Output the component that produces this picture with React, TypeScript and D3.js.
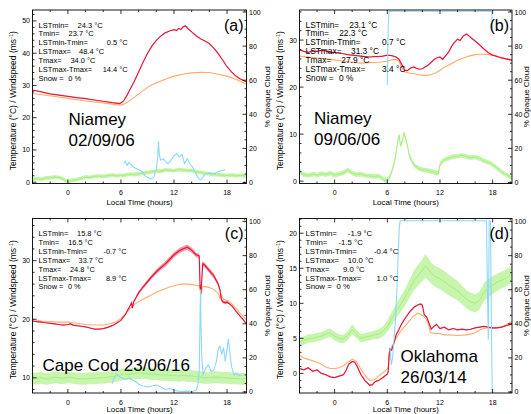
import React from "react";
import * as d3 from "d3";

type Pt = number[]; // [hour, value, optional noise half-width]

// ---------- shared axis values ----------
const X_DOMAIN: [number, number] = [-4, 20.2];
const X_MAJOR = [0, 6, 12, 18];
const R_MAJOR = [0, 20, 40, 60, 80, 100];
const X_TITLE = "Local Time (hours)";
const Y_TITLE_LEFT = "Temperature (°C) / Windspeed (ms";
const Y_TITLE_RIGHT = "% Opaque Cloud";
const STAT_LABELS = ["LSTmin=", "Tmin=", "LSTmin-Tmin=", "LSTmax=", "Tmax=", "LSTmax-Tmax=", "Snow ="];

// ---------- (a) Niamey 02/09/06 ----------
const aLst: Pt[] = [[-4,28.6],[-3,28.0],[-2,27.4],[-1,27.0],[0,26.6],[1,26.2],[2,25.9],[3,25.5],[4,25.1],[5,24.7],[5.9,24.4],[6.3,25.2],[6.7,27.0],[7,28.6],[7.5,31.2],[8,34.2],[8.5,37.2],[9,39.9],[9.5,42.2],[10,44.0],[10.5,45.3],[11,46.3],[11.5,46.9],[12,47.3],[12.3,47.0],[12.5,47.7],[12.8,47.4],[13,48.1],[13.3,48.5],[13.6,47.6],[14,46.6],[14.5,45.4],[15,44.5],[15.5,43.8],[16,43.0],[16.5,41.6],[17,39.9],[17.5,37.9],[18,35.8],[18.5,34.2],[19,32.9],[19.5,32.0],[20,31.4],[20.2,31.1]];
const aTair: Pt[] = [[-4,27.5],[-2,26.8],[0,26.0],[2,25.2],[4,24.6],[5,24.2],[6,23.9],[6.5,24.4],[7,25.3],[7.5,26.3],[8,27.3],[8.5,28.4],[9,29.4],[9.5,30.2],[10,30.8],[11,31.9],[12,32.9],[13,33.5],[14,33.9],[15,34.1],[16,34.0],[17,33.5],[18,32.9],[19,31.9],[20,30.6],[20.2,30.3]];
const aWind: Pt[] = [[-4,0.9],[-3.5,1.1],[-3,0.9],[-2.5,1.3],[-2,1.4],[-1.5,1.6],[-1,1.5],[-0.5,0.9],[0,0.2],[0.5,0.6],[1,0.8],[1.5,1.2],[2,1.6],[2.5,1.5],[3,1.8],[3.5,1.9],[4,1.8],[4.5,2.0],[5,2.2],[5.5,2.0],[6,2.1],[6.5,2.2],[7,2.5],[7.5,2.4],[8,2.6],[8.5,2.8],[9,3.0],[9.5,3.2],[10,3.5],[10.5,3.4],[11,3.8],[11.5,3.7],[12,3.6],[12.5,3.9],[13,3.8],[13.5,3.6],[14,3.6],[14.5,3.3],[15,3.0],[15.5,2.8],[16,2.6],[16.5,2.4],[17,2.3],[17.5,2.2],[18,2.1],[18.5,2.2],[19,2.0],[19.5,2.1],[20,2.0],[20.2,1.9]];
const aWindNoise = 0.6;
const aCloud: Pt[] = [[6.3,11],[6.5,12.5],[6.7,10],[6.9,12],[7.2,10],[7.6,8.5],[8,7.5],[8.4,6.5],[8.7,4],[9,3],[9.4,2],[9.7,3],[10,8],[10.15,14],[10.25,24],[10.35,16],[10.5,13],[10.8,14],[11,12.5],[11.3,11],[11.6,12.5],[12,15.5],[12.3,17],[12.6,15],[12.9,16.5],[13.2,11],[13.5,14],[13.8,11],[14.1,9],[14.4,6],[14.7,3],[15,1.5],[15.3,3.5],[15.6,5],[16,5.5],[16.5,5],[17,6.5],[17.4,7],[17.8,7.5]];
const aStats = ["24.3 °C", "23.7 °C", "0.5 °C", "48.4 °C", "34.0 °C", "14.4 °C", "0 %"];
const aPlace = ["Niamey", "02/09/06"];

// ---------- (b) Niamey 09/06/06 ----------
const bLst: Pt[] = [[-4,27.9],[-3.5,27.6],[-3,27.4],[-2.5,27.7],[-2,27.6],[-1.5,27.8],[-1,27.7],[-0.5,27.4],[0,27.4],[0.5,27.2],[1,27.1],[1.5,26.9],[2,26.8],[2.5,26.7],[3,26.6],[3.5,26.5],[4,26.4],[4.5,26.5],[5,26.5],[5.5,26.6],[6,26.8],[6.5,26.7],[7,26.4],[7.3,26.0],[7.6,25.0],[8,23.6],[8.3,23.5],[8.6,24.0],[9,24.3],[9.3,24.0],[9.6,23.8],[10,23.9],[10.3,24.3],[10.6,24.6],[11,25.3],[11.3,25.8],[11.6,26.2],[12,26.4],[12.3,25.9],[12.6,26.6],[13,27.5],[13.3,28.6],[13.6,29.4],[14,30.2],[14.3,29.9],[14.6,30.8],[15,31.3],[15.3,30.9],[15.6,30.4],[16,29.8],[16.5,29.0],[17,28.1],[17.5,27.3],[18,26.8],[18.5,26.5],[19,26.2],[19.5,26.0],[20,25.8],[20.2,25.7]];
const bTair: Pt[] = [[-4,26.6],[-3,26.4],[-2,26.2],[-1,26.0],[0,25.8],[1,25.5],[2,25.3],[3,25.1],[4,25.2],[5,25.3],[5.5,25.4],[6,25.5],[6.5,25.8],[7,25.9],[7.3,25.6],[7.6,24.3],[8,23.2],[8.5,23.0],[9,22.9],[9.5,22.7],[10,22.5],[10.5,22.5],[11,22.7],[11.5,23.0],[12,23.6],[12.5,24.2],[13,24.7],[13.5,25.2],[14,25.7],[14.5,26.1],[15,26.4],[15.5,26.7],[16,26.9],[16.5,27.0],[17,27.0],[17.5,26.9],[18,26.8],[18.5,26.6],[19,26.3],[19.5,26.1],[20,25.9],[20.2,25.8]];
const bWind: Pt[] = [[-4,2.4],[-3.75,1.6],[-3.5,1.4],[-3,1.2],[-2.5,1.5],[-2,1.3],[-1.5,1.6],[-1,1.4],[-0.5,1.7],[0,1.3],[0.5,1.5],[1,1.8],[1.5,2.4],[2,1.7],[2.5,1.4],[3,1.5],[3.5,1.2],[4,1.1],[4.5,1.0],[5,1.1],[5.5,0.5],[5.9,0.1],[6.2,0.6],[6.5,2.0],[6.8,4.0],[7.0,6.0],[7.2,8.5],[7.35,9.8],[7.5,7.5],[7.7,8.5],[7.9,10.3],[8.1,9.0],[8.3,7.5],[8.5,5.5],[8.8,4.2],[9.1,3.3],[9.5,2.8],[10,2.4],[10.5,2.3],[11,2.1],[11.5,1.8],[11.8,1.6],[12,3.5],[12.3,4.3],[12.6,4.6],[13,4.9],[13.5,5.2],[14,5.3],[14.5,5.5],[15,5.2],[15.5,5.0],[16,5.1],[16.5,4.8],[17,4.3],[17.5,4.0],[18,3.5],[18.5,2.8],[19,2.0],[19.5,1.4],[20,0.9],[20.2,0.8]];
const bWindNoise = 0.5;
const bCloud: Pt[] = [[6.0,57],[6.05,75],[6.1,92],[6.2,100.5],[8,100.5],[10,100.5],[12,100.5],[14,100.5],[16,100.5],[17.9,100.5],[18.0,88]];
const bStats = ["23.1 °C", "22.3 °C", "0.7 °C", "31.3 °C", "27.9 °C", "3.4 °C", "0 %"];
const bPlace = ["Niamey", "09/06/06"];

// ---------- (c) Cape Cod 23/06/16 ----------
const cLst: Pt[] = [[-4,19.7],[-3.5,19.6],[-3,19.5],[-2.5,19.4],[-2,19.3],[-1.5,19.2],[-1,19.1],[-0.5,19.0],[0,19.1],[0.3,19.2],[0.6,19.0],[1,18.9],[1.5,18.8],[2,18.7],[2.5,18.5],[3,18.3],[3.5,18.3],[4,18.4],[4.5,18.6],[5,18.9],[5.5,19.3],[6,19.8],[6.5,20.8],[7,22.2],[7.2,22.8],[7.3,21.9],[7.45,23.0],[8,24.5,0.3],[8.5,25.5,0.3],[9,26.4,0.35],[9.5,27.3,0.35],[10,28.1,0.4],[10.5,28.8,0.4],[11,29.4,0.45],[11.5,30.2,0.45],[12,31.0,0.45],[12.5,31.6,0.45],[13,32.0,0.45],[13.5,32.3,0.45],[14,31.8,0.45],[14.5,31.0,0.4],[14.85,30.8,0.4],[14.95,25.6,0.2],[15.05,24.5,0.2],[15.15,27.0,0.2],[15.25,29.5,0.4],[15.5,29.2,0.4],[16,28.3,0.4],[16.5,27.4,0.4],[17,26.0,0.3],[17.2,25.0,0.3],[17.35,23.5,0.25],[17.5,23.0,0.25],[17.8,22.8,0.25],[18,22.9,0.25],[18.3,22.6],[18.6,22.2],[19,21.4],[19.5,20.5],[20,19.6],[20.2,19.2]];
const cTair: Pt[] = [[-4,20.0],[-3,19.7],[-2,19.6],[-1,19.5],[0,19.5],[0.5,19.4],[1,19.3],[2,19.1],[3,19.0],[4,19.0],[5,19.3],[5.5,19.6],[6,20.1],[6.5,20.9],[7,21.8],[7.5,22.5],[8,23.0],[8.5,23.4],[9,23.8],[9.5,24.2],[10,24.6],[10.5,24.9],[11,25.2],[11.5,25.5],[12,25.7],[12.5,25.9],[13,26.0],[13.5,26.0],[14,25.9],[14.5,25.8],[14.9,25.7],[15.0,24.5],[15.1,24.3],[15.2,25.5],[15.5,25.6],[16,25.4],[16.5,25.1],[17,24.4],[17.2,23.6],[17.35,24.2],[17.6,23.4],[18,23.2],[18.5,22.7],[19,21.9],[19.5,21.0],[20,20.2],[20.2,19.9]];
const cWind: Pt[] = [[-4,9.8],[-3.5,9.9],[-3,10.0],[-2.5,9.8],[-2,9.9],[-1.5,10.1],[-1,10.0],[-0.5,9.9],[0,10.1],[0.5,10.0],[1,9.9],[1.5,9.8],[2,9.8],[2.5,9.9],[3,9.9],[3.5,10.0],[4,10.0],[4.5,10.1],[5,10.2],[5.5,10.3],[6,10.5],[6.5,10.6],[7,10.6],[7.5,10.7],[8,10.8],[8.5,10.8],[9,10.7],[9.5,10.6],[10,10.6],[10.5,10.5],[11,10.5],[11.5,10.4],[12,10.4],[12.5,10.3],[13,10.4],[13.5,10.3],[14,10.3],[14.5,10.2],[15,10.1],[15.5,10.0],[16,10.0],[16.5,10.1],[17,10.1],[17.5,10.0],[18,10.0],[18.5,9.9],[19,9.9],[19.5,9.8],[20,9.8],[20.2,9.8]];
const cWindNoise = 1.0;
const cCloud: Pt[] = [[5.0,5],[5.2,8],[5.5,10.5],[5.8,9],[6.2,8],[6.6,7.5],[7.0,8.5],[7.3,7],[7.7,6],[8.0,4.5],[8.5,3.5],[9.0,3],[9.5,3.5],[10.0,4],[10.5,3],[11.0,1.5],[11.5,2],[12.0,1],[12.5,0.5],[13.0,0.3],[13.5,0.5],[14.0,0.3],[14.5,1],[14.7,4],[14.85,12],[14.95,45],[15.0,60],[15.05,40],[15.15,20],[15.3,10],[15.6,14],[15.9,16],[16.2,12],[16.5,13],[16.8,18],[17.0,25],[17.2,27],[17.4,22],[17.6,26],[17.8,18],[18.0,25],[18.15,31],[18.3,24],[18.5,15],[18.8,10],[19.1,11],[19.4,9.5],[19.7,10]];
const cStats = ["15.8 °C", "16.5 °C", "-0.7 °C", "33.7 °C", "24.8 °C", "8.9 °C", "0 %"];
const cPlace = ["Cape Cod 23/06/16"];

// ---------- (d) Oklahoma 26/03/14 ----------
const dLst: Pt[] = [[-4,0.7],[-3.5,0.5],[-3,0.8],[-2.5,0.3],[-2,0.5],[-1.5,0.0],[-1,-0.2],[-0.5,-0.5],[0,-0.6],[0.5,-0.4],[1,-0.2],[1.3,0.4],[1.6,1.3],[2,1.7],[2.3,1.6],[2.6,0.9],[3,-0.2],[3.5,-1.1],[4,-1.7],[4.3,-1.6],[4.6,-1.2],[5,-1.0],[5.5,-0.6],[6,-0.1],[6.1,0.2],[6.2,2.5],[6.3,3.5],[6.5,3.3],[6.8,4.5],[7,5.5],[7.3,6.2],[7.6,7.0],[8,7.8],[8.5,8.7],[9,9.4],[9.5,9.8],[9.8,9.9],[10,9.7],[10.2,8.4],[10.5,8.0],[10.8,7.0],[11,6.3],[11.3,6.7],[11.6,7.0],[12,6.4],[12.5,6.6],[13,6.2],[13.5,6.4],[14,6.2],[14.5,6.3],[15,6.2],[15.5,6.3],[16,6.5],[16.5,6.6],[17,6.7],[17.5,6.6],[18,6.5],[18.5,6.5],[19,6.6],[19.5,6.8],[20,7.0],[20.2,7.1]];
const dTair: Pt[] = [[-4,2.6],[-3.5,2.2],[-3,2.0],[-2.5,1.8],[-2,1.6],[-1.5,1.3],[-1,0.9],[-0.5,0.7],[0,0.7],[0.5,0.8],[1,1.1],[1.5,1.6],[2,2.0],[2.4,1.8],[2.8,1.0],[3.2,0.2],[3.6,-0.5],[4,-1.0],[4.5,-0.9],[5,-0.4],[5.5,0.1],[6,0.6],[6.1,0.8],[6.25,3.0],[6.5,3.8],[7,5.0],[7.5,6.0],[8,6.7],[8.5,7.5],[9,8.2],[9.5,8.6],[10,8.3],[10.4,7.8],[10.7,7.0],[10.9,5.8],[11.5,5.7],[12,5.7],[12.5,5.5],[13,5.5],[14,5.4],[15,5.5],[15.5,5.6],[16,5.8],[16.5,6.2],[17,6.4],[17.5,6.5],[18,6.4],[18.5,6.5],[19,6.6],[19.5,6.9],[20,7.3],[20.2,7.4]];
const dWind: Pt[] = [[-4,4.5,0.6],[-3.5,4.7,0.6],[-3,5.0,0.6],[-2.5,5.0,0.6],[-2,5.2,0.6],[-1.5,5.3,0.6],[-1,5.6,0.6],[-0.5,5.8,0.6],[0,5.3,0.6],[0.5,5.0,0.6],[1,4.9,0.6],[1.5,5.4,0.6],[2,6.3,0.7],[2.5,5.6,0.6],[3,5.0,0.6],[3.5,5.2,0.6],[4,5.3,0.6],[4.5,5.5,0.6],[5,5.6,0.7],[5.5,6.0,0.7],[6,6.7,0.8],[6.5,7.8,0.9],[7,8.9,1.0],[7.5,9.8,1.1],[8,10.8,1.2],[8.5,12.0,1.3],[9,13.2,1.4],[9.5,14.0,1.5],[10,14.7,1.6],[10.3,15.3,1.7],[10.6,15.0,1.6],[11,14.3,1.5],[11.5,13.8,1.5],[12,13.5,1.5],[12.5,13.1,1.5],[13,12.6,1.5],[13.5,12.2,1.4],[14,11.8,1.4],[14.5,11.2,1.3],[15,10.6,1.3],[15.5,10.2,1.3],[16,10.0,1.3],[16.5,10.4,1.3],[17,11.6,1.3],[17.5,12.2,1.3],[18,12.6,1.3],[18.5,13.0,1.2],[19,13.3,1.2],[19.5,13.6,1.2],[20,14.0,1.2],[20.2,14.2,1.2]];
const dWindNoise = 1.0;
const dCloud: Pt[] = [[6.3,26],[6.45,16],[6.6,20],[6.75,30],[6.9,40],[7.05,55],[7.2,75],[7.35,95],[7.45,100.5],[10,100.5],[14,100.5],[17.3,100.5],[17.4,60],[17.5,31],[17.55,60],[17.6,100.5],[17.75,100.5],[17.85,40],[17.95,-1]];
const dStats = ["-1.9 °C", "-1.5 °C", "-0.4 °C", "10.0 °C", "9.0 °C", "1.0 °C", "0 %"];
const dPlace = ["Oklahoma", "26/03/14"];

// ---------- layout / style ----------
const W = 531, H = 414;
const COLS = [{ l: 32.5, r: 246.5 }, { l: 299.5, r: 512 }];
const ROWS = [{ t: 10, b: 183.5, xTitle: 21 }, { t: 218.5, b: 393, xTitle: 18.5 }];
const C = { lst: "#e4163a", tair: "#ffab68", wind: "#a2ee78", cloud: "#8dd8fa" };
const FONT = "'Liberation Sans', Arial, Helvetica, sans-serif";
// right edge of each stats value, in ems of the stats font, measured from the block start
const STAT_VALUE_END_EM = [8.55, 7.35, 11.9, 8.75, 7.6, 11.9, 5.7];

interface Spec {
  letter: string; col: number; row: number;
  yDomain: [number, number]; yStep: number; yMinorStep: number; rDomain: [number, number];
  lst: Pt[]; tair: Pt[]; wind: Pt[]; windNoise: number; cloud: Pt[];
  stats: string[]; statFs: number; place: string[]; placeX: number; placeY: number; placeGap: number;
}

const SPECS: Spec[] = [
  { letter: "(a)", col: 0, row: 0, yDomain: [-0.4, 53.4], yStep: 10, yMinorStep: 2, rDomain: [-0.6, 101.2],
    lst: aLst, tair: aTair, wind: aWind, windNoise: aWindNoise, cloud: aCloud, stats: aStats, statFs: 7.5, place: aPlace, placeX: 36, placeY: 115, placeGap: 21 },
  { letter: "(b)", col: 1, row: 0, yDomain: [-0.5, 36.4], yStep: 10, yMinorStep: 2, rDomain: [-0.6, 101.2],
    lst: bLst, tair: bTair, wind: bWind, windNoise: bWindNoise, cloud: bCloud, stats: bStats, statFs: 8.4, place: bPlace, placeX: 14.5, placeY: 114, placeGap: 21 },
  { letter: "(c)", col: 0, row: 1, yDomain: [7.4, 37.2], yStep: 10, yMinorStep: 2, rDomain: [-0.6, 101.8],
    lst: cLst, tair: cTair, wind: cWind, windNoise: cWindNoise, cloud: cCloud, stats: cStats, statFs: 7.4, place: cPlace, placeX: 10, placeY: 152.5, placeGap: 21 },
  { letter: "(d)", col: 1, row: 1, yDomain: [-2.8, 22.1], yStep: 5, yMinorStep: 1, rDomain: [-0.6, 101.8],
    lst: dLst, tair: dTair, wind: dWind, windNoise: dWindNoise, cloud: dCloud, stats: dStats, statFs: 7.8, place: dPlace, placeX: 101, placeY: 143, placeGap: 21 },
];

function Panel({ s }: { s: Spec }) {
  const { l, r } = COLS[s.col];
  const { t, b, xTitle } = ROWS[s.row];
  const x = d3.scaleLinear().domain(X_DOMAIN).range([l, r]);
  const y = d3.scaleLinear().domain(s.yDomain).range([b, t]);
  const yr = d3.scaleLinear().domain(s.rDomain).range([b, t]);
  const clipId = "clip" + s.letter.replace(/[()]/g, "");

  const lineL = d3.line<Pt>().x(d => x(d[0])).y(d => y(d[1]));
  const lineR = d3.line<Pt>().x(d => x(d[0])).y(d => yr(d[1]));
  const band = (noise: number) =>
    d3.area<Pt>().x(d => x(d[0]))
      .y0(d => y(d[1] - (d[2] ?? noise)))
      .y1(d => y(d[1] + (d[2] ?? noise)));

  const yMajor = d3.range(Math.ceil(s.yDomain[0] / s.yStep) * s.yStep, s.yDomain[1] + 1e-9, s.yStep);
  const yMinor = d3.range(Math.ceil(s.yDomain[0] / s.yMinorStep) * s.yMinorStep, s.yDomain[1] + 1e-9, s.yMinorStep)
    .filter(v => Math.abs(v / s.yStep - Math.round(v / s.yStep)) > 1e-6);
  const rMinor = d3.range(5, 100, 5).filter(v => v % 20 !== 0);
  const xMinor = d3.range(-4, X_DOMAIN[1] + 1e-9, 2).filter(v => v % 6 !== 0);

  const TL = 4, TM = 2;
  const cx = (l + r) / 2, cy = (t + b) / 2;
  const tickFs = 7;
  const statX = l + 6;

  return (
    <g>
      <defs>
        <clipPath id={clipId}><rect x={l} y={t} width={r - l} height={b - t} /></clipPath>
      </defs>
      <g clipPath={`url(#${clipId})`}>
        <path d={lineL(s.tair) || ""} fill="none" stroke={C.tair} strokeWidth={1.1} />
        <path d={band(0.06)(s.lst) || ""} fill={C.lst} opacity={0.45} />
        <path d={lineL(s.lst) || ""} fill="none" stroke={C.lst} strokeWidth={1.2} />
        <path d={band(s.windNoise)(s.wind) || ""} fill={C.wind} opacity={0.6} />
        <path d={lineL(s.wind) || ""} fill="none" stroke={C.wind} strokeWidth={0.9} />
        <path d={lineR(s.cloud) || ""} fill="none" stroke={C.cloud} strokeWidth={1.1} strokeLinejoin="round" />
      </g>
      <rect x={l} y={t} width={r - l} height={b - t} fill="none" stroke="#000" strokeWidth={0.9} />
      {X_MAJOR.map(v => (
        <g key={"xm" + v}>
          <line x1={x(v)} x2={x(v)} y1={b} y2={b - TL} stroke="#000" strokeWidth={0.8} />
          <line x1={x(v)} x2={x(v)} y1={t} y2={t + TL} stroke="#000" strokeWidth={0.8} />
          <text x={x(v)} y={b + 11.5} fontSize={tickFs} textAnchor="middle">{v}</text>
        </g>
      ))}
      {xMinor.map(v => (
        <g key={"xn" + v}>
          <line x1={x(v)} x2={x(v)} y1={b} y2={b - TM} stroke="#000" strokeWidth={0.8} />
          <line x1={x(v)} x2={x(v)} y1={t} y2={t + TM} stroke="#000" strokeWidth={0.8} />
        </g>
      ))}
      {yMajor.map(v => (
        <g key={"ym" + v}>
          <line x1={l} x2={l + TL} y1={y(v)} y2={y(v)} stroke="#000" strokeWidth={0.8} />
          <text x={l - 2.5} y={y(v) + 2.5} fontSize={tickFs} textAnchor="end">{v}</text>
        </g>
      ))}
      {yMinor.map(v => (
        <line key={"yn" + v} x1={l} x2={l + TM} y1={y(v)} y2={y(v)} stroke="#000" strokeWidth={0.8} />
      ))}
      {R_MAJOR.map(v => (
        <g key={"rm" + v}>
          <line x1={r} x2={r - TL} y1={yr(v)} y2={yr(v)} stroke="#000" strokeWidth={0.8} />
          <text x={r + 2.5} y={yr(v) + 2.5} fontSize={tickFs} textAnchor="start">{v}</text>
        </g>
      ))}
      {rMinor.map(v => (
        <line key={"rn" + v} x1={r} x2={r - TM} y1={yr(v)} y2={yr(v)} stroke="#000" strokeWidth={0.8} />
      ))}
      <text x={cx} y={b + xTitle} fontSize={8} textAnchor="middle">{X_TITLE}</text>
      <text transform={`translate(${l - 17},${cy + 4}) rotate(-90)`} fontSize={8.5} textAnchor="middle">
        {Y_TITLE_LEFT}<tspan fontSize={5.5} dy={-3}>-1</tspan><tspan dy={3}>)</tspan>
      </text>
      <text transform={`translate(${Math.min(r + 23, W - 2)},${cy}) rotate(-90)`} fontSize={8} textAnchor="middle">{Y_TITLE_RIGHT}</text>
      {STAT_LABELS.map((lab, i) => (
        <g key={"st" + i} fontSize={s.statFs}>
          <text x={statX} y={t + 17.5 + i * 8.9}>{lab}</text>
          <text x={statX + STAT_VALUE_END_EM[i] * s.statFs} y={t + 17.5 + i * 8.9} textAnchor="end">{s.stats[i]}</text>
        </g>
      ))}
      <text x={r - 3} y={t + 20.5} fontSize={16} textAnchor="end">{s.letter}</text>
      {s.place.map((line, i) => (
        <text key={"pl" + i} x={l + s.placeX} y={t + s.placeY + i * s.placeGap} fontSize={17}>{line}</text>
      ))}
    </g>
  );
}

export default function App() {
  return (
    <svg width={W} height={H} viewBox={`0 0 ${W} ${H}`}
      style={{ position: "absolute", left: 0, top: 0, background: "#fff", fontFamily: FONT }}>
      <rect x={0} y={0} width={W} height={H} fill="#fff" />
      {SPECS.map(s => <Panel key={s.letter} s={s} />)}
    </svg>
  );
}
